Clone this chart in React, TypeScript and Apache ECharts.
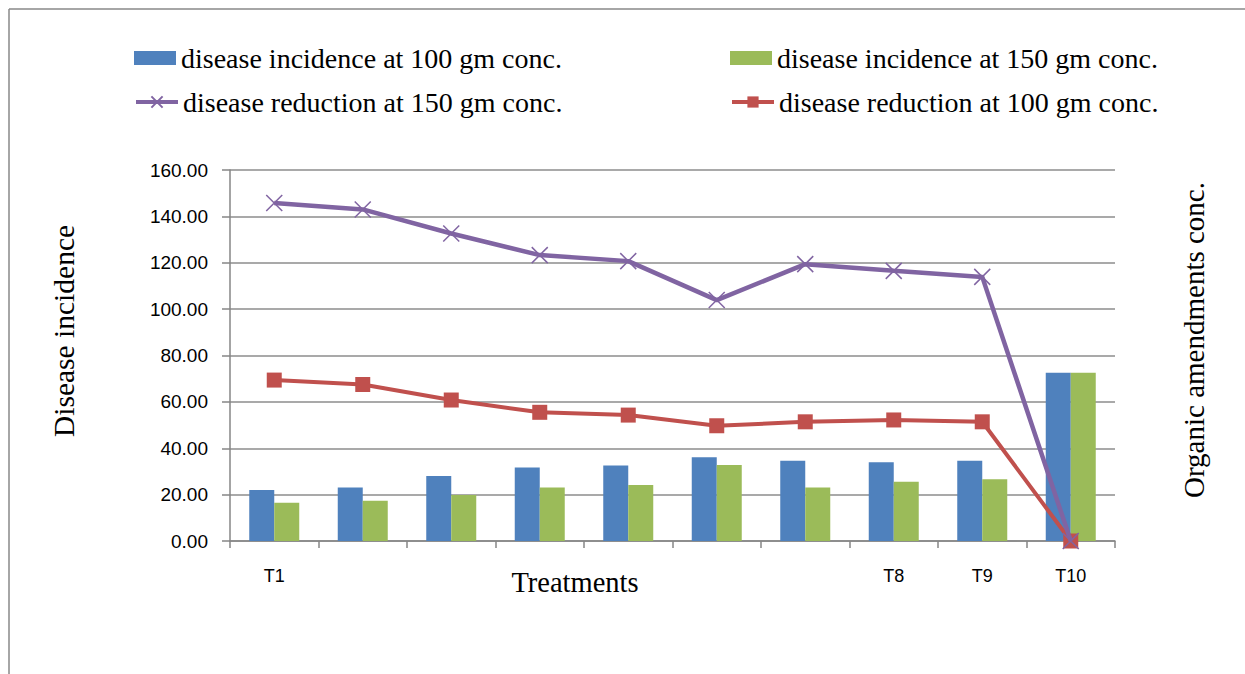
import React, { useEffect, useRef } from "react";
import * as echarts from "echarts";

const categories = ["T1", "", "", "", "", "", "", "T8", "T9", "T10"];
const incidence100 = [22.0, 23.1, 28.0, 31.7, 32.6, 36.1, 34.6, 34.0, 34.6, 72.6];
const incidence150 = [16.5, 17.4, 19.8, 23.1, 24.1, 32.8, 23.1, 25.6, 26.6, 72.6];
const reduction150 = [145.8, 143.0, 132.6, 123.3, 120.7, 103.9, 119.4, 116.5, 113.9, 0];
const reduction100 = [69.4, 67.5, 60.8, 55.5, 54.3, 49.7, 51.4, 52.2, 51.4, 0];
const yTicks = { min: 0, max: 160, interval: 20 };

const N_INC100 = "disease incidence at 100 gm conc.";
const N_INC150 = "disease incidence at 150 gm conc.";
const N_RED150 = "disease reduction at 150 gm conc.";
const N_RED100 = "disease reduction at 100 gm conc.";

const SERIF = "'Liberation Serif', 'Times New Roman', serif";
const SANS = "'Liberation Sans', Arial, sans-serif";

export default function App() {
  const ref = useRef<HTMLDivElement>(null);
  useEffect(() => {
    document.body.style.margin = "0";
    const chart = echarts.init(ref.current!, undefined, { renderer: "svg" });
    const legendText = { fontFamily: SERIF, fontSize: 28, color: "#000" };
    const legendBase = {
      itemWidth: 42,
      itemHeight: 14,
      itemGap: 4,
      textStyle: legendText,
      selectedMode: false,
    };
    chart.setOption({
      animation: false,
      backgroundColor: "#fff",
      legend: [
        { ...legendBase, data: [{ name: N_INC100, icon: "rect" }], left: 129, top: 39 },
        { ...legendBase, data: [{ name: N_INC150, icon: "rect" }], left: 725, top: 39 },
        {
          ...legendBase,
          data: [{ name: N_RED150, lineStyle: { width: 4 } }],
          left: 129,
          top: 83,
        },
        {
          ...legendBase,
          data: [{ name: N_RED100, lineStyle: { width: 4 } }],
          left: 725,
          top: 83,
        },
      ],
      grid: { left: 230, right: 130, top: 170, bottom: 133, containLabel: false },
      xAxis: {
        type: "category",
        data: categories,
        axisLine: { lineStyle: { color: "#868686", width: 1.5 } },
        axisTick: { show: true, length: 7, lineStyle: { color: "#868686", width: 1.5 } },
        axisLabel: { fontFamily: SANS, fontSize: 18, color: "#000", margin: 26, interval: 0 },
      },
      yAxis: {
        type: "value",
        min: yTicks.min,
        max: yTicks.max,
        interval: yTicks.interval,
        axisLine: { show: true, lineStyle: { color: "#868686", width: 1.5 } },
        axisTick: { show: true, length: 8, lineStyle: { color: "#868686", width: 1.5 } },
        axisLabel: {
          fontFamily: SANS,
          fontSize: 19,
          color: "#000",
          margin: 22,
          formatter: (v: number) => v.toFixed(2),
        },
        splitLine: { lineStyle: { color: "#8c8c8c", width: 1.5 } },
      },
      series: [
        {
          name: N_INC100,
          type: "bar",
          data: incidence100,
          barWidth: 25,
          barGap: "0%",
          itemStyle: { color: "#4F81BD" },
        },
        {
          name: N_INC150,
          type: "bar",
          data: incidence150,
          barWidth: 25,
          barGap: "0%",
          itemStyle: { color: "#9BBB59" },
        },
        {
          name: N_RED100,
          type: "line",
          data: reduction100,
          symbol: "rect",
          symbolSize: 15,
          lineStyle: { color: "#C0504D", width: 4 },
          itemStyle: { color: "#C0504D" },
          z: 3,
        },
        {
          name: N_RED150,
          type: "line",
          data: reduction150,
          symbol: "path://M0 0L10 10M10 0L0 10",
          symbolSize: 16,
          lineStyle: { color: "#8064A2", width: 4.5 },
          itemStyle: { color: "#8064A2", borderColor: "#8064A2", borderWidth: 1.5 },
          z: 4,
        },
      ],
      graphic: [
        {
          type: "line",
          shape: { x1: 9, y1: 9, x2: 1245, y2: 9 },
          style: { stroke: "#888", lineWidth: 1.5 },
          silent: true,
        },
        {
          type: "line",
          shape: { x1: 9, y1: 9, x2: 9, y2: 674 },
          style: { stroke: "#888", lineWidth: 1.5 },
          silent: true,
        },
        {
          type: "text",
          x: 575,
          y: 582,
          style: {
            text: "Treatments",
            fontFamily: SERIF,
            fontSize: 28.5,
            fill: "#000",
            align: "center",
            verticalAlign: "middle",
          },
        },
        {
          type: "text",
          x: 64,
          y: 331,
          rotation: Math.PI / 2,
          style: {
            text: "Disease incidence",
            fontFamily: SERIF,
            fontSize: 29.5,
            fill: "#000",
            align: "center",
            verticalAlign: "middle",
          },
        },
        {
          type: "text",
          x: 1194,
          y: 340,
          rotation: Math.PI / 2,
          style: {
            text: "Organic amendments conc.",
            fontFamily: SERIF,
            fontSize: 29,
            fill: "#000",
            align: "center",
            verticalAlign: "middle",
          },
        },
      ],
    });
    return () => chart.dispose();
  }, []);
  return <div ref={ref} style={{ width: 1245, height: 674 }} />;
}
